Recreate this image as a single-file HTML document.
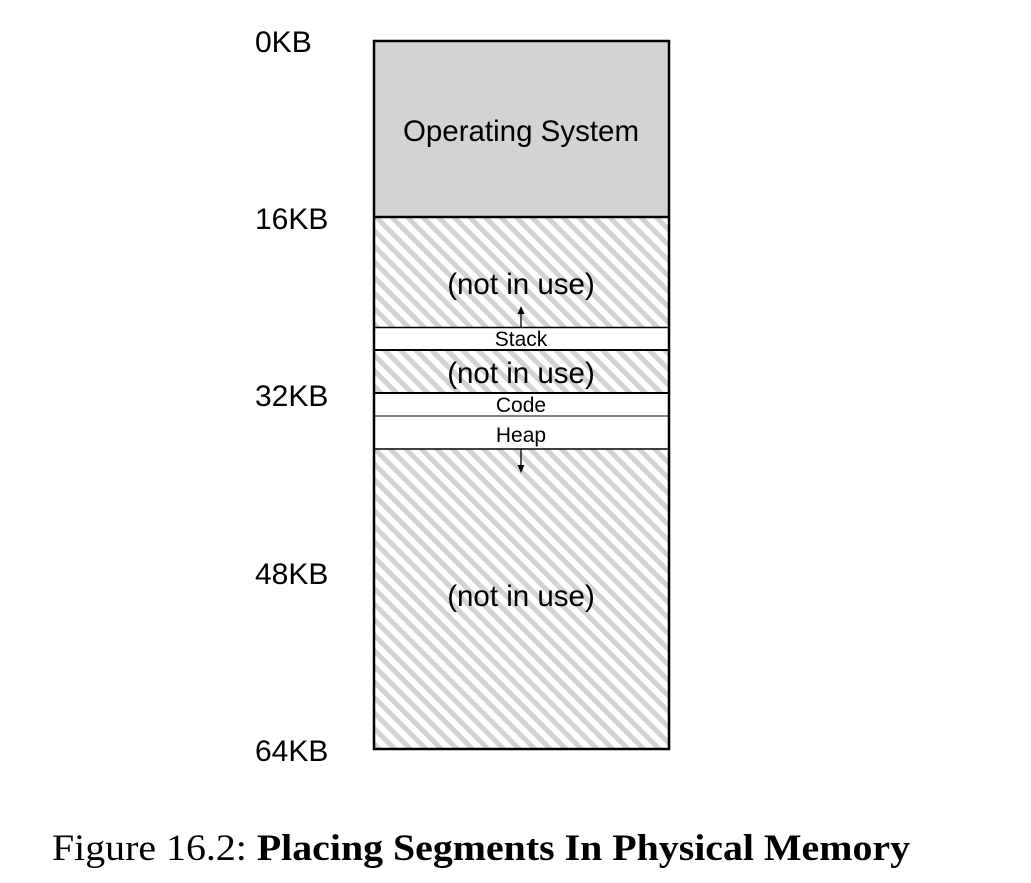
<!DOCTYPE html>
<html><head><meta charset="utf-8"><style>
html,body{margin:0;padding:0;background:#fff;}
svg{display:block;}
</style></head><body>
<svg width="1031" height="883" viewBox="0 0 1031 883" xmlns="http://www.w3.org/2000/svg">
<defs>
<pattern id="h" patternUnits="userSpaceOnUse" width="11" height="11" patternTransform="rotate(-45)">
<rect width="11" height="11" fill="#fff"/>
<rect width="5" height="11" fill="#d2d2d2"/>
</pattern>
</defs>
<g font-family="Liberation Sans, sans-serif" fill="#000">
<text x="255" y="52" font-size="30">0KB</text>
<text x="255" y="229" font-size="30">16KB</text>
<text x="255" y="406" font-size="30">32KB</text>
<text x="255" y="584" font-size="30">48KB</text>
<text x="255" y="761" font-size="30">64KB</text>
</g>
<rect x="374" y="41" width="295" height="176" fill="#d3d3d3"/>
<rect x="374" y="217" width="295" height="110" fill="url(#h)"/>
<rect x="374" y="327" width="295" height="23" fill="#fff"/>
<rect x="374" y="350" width="295" height="43" fill="url(#h)"/>
<rect x="374" y="393" width="295" height="56" fill="#fff"/>
<rect x="374" y="449" width="295" height="300" fill="url(#h)"/>
<g stroke="#000" fill="none">
<rect x="374" y="41" width="295" height="708" stroke-width="2.5"/>
<line x1="374" y1="217" x2="669" y2="217" stroke-width="2.5"/>
<line x1="374" y1="327.5" x2="669" y2="327.5" stroke-width="1.5"/>
<line x1="374" y1="350" x2="669" y2="350" stroke-width="2"/>
<line x1="374" y1="393" x2="669" y2="393" stroke-width="2"/>
<line x1="374" y1="416" x2="669" y2="416" stroke-width="1"/>
<line x1="374" y1="449" x2="669" y2="449" stroke-width="1.5"/>
<line x1="521" y1="327" x2="521" y2="313" stroke-width="1.3"/>
<line x1="521" y1="449" x2="521" y2="466" stroke-width="1.3"/>
</g>
<polygon points="521,306 517.5,314 524.5,314" fill="#000"/>
<polygon points="521,473 517.5,465 524.5,465" fill="#000"/>
<g font-family="Liberation Sans, sans-serif" fill="#000" text-anchor="middle">
<text x="521" y="141" font-size="29.5">Operating System</text>
<text x="521" y="294" font-size="29.5">(not in use)</text>
<text x="521" y="346" font-size="21">Stack</text>
<text x="521" y="383" font-size="29.5">(not in use)</text>
<text x="521" y="412" font-size="21">Code</text>
<text x="521" y="442" font-size="21">Heap</text>
<text x="521" y="606" font-size="29.5">(not in use)</text>
</g>
<text x="52" y="860" font-family="Liberation Serif, serif" font-size="37" fill="#000" textLength="858" lengthAdjust="spacingAndGlyphs">Figure 16.2: <tspan font-weight="bold">Placing Segments In Physical Memory</tspan></text>
</svg>
</body></html>
